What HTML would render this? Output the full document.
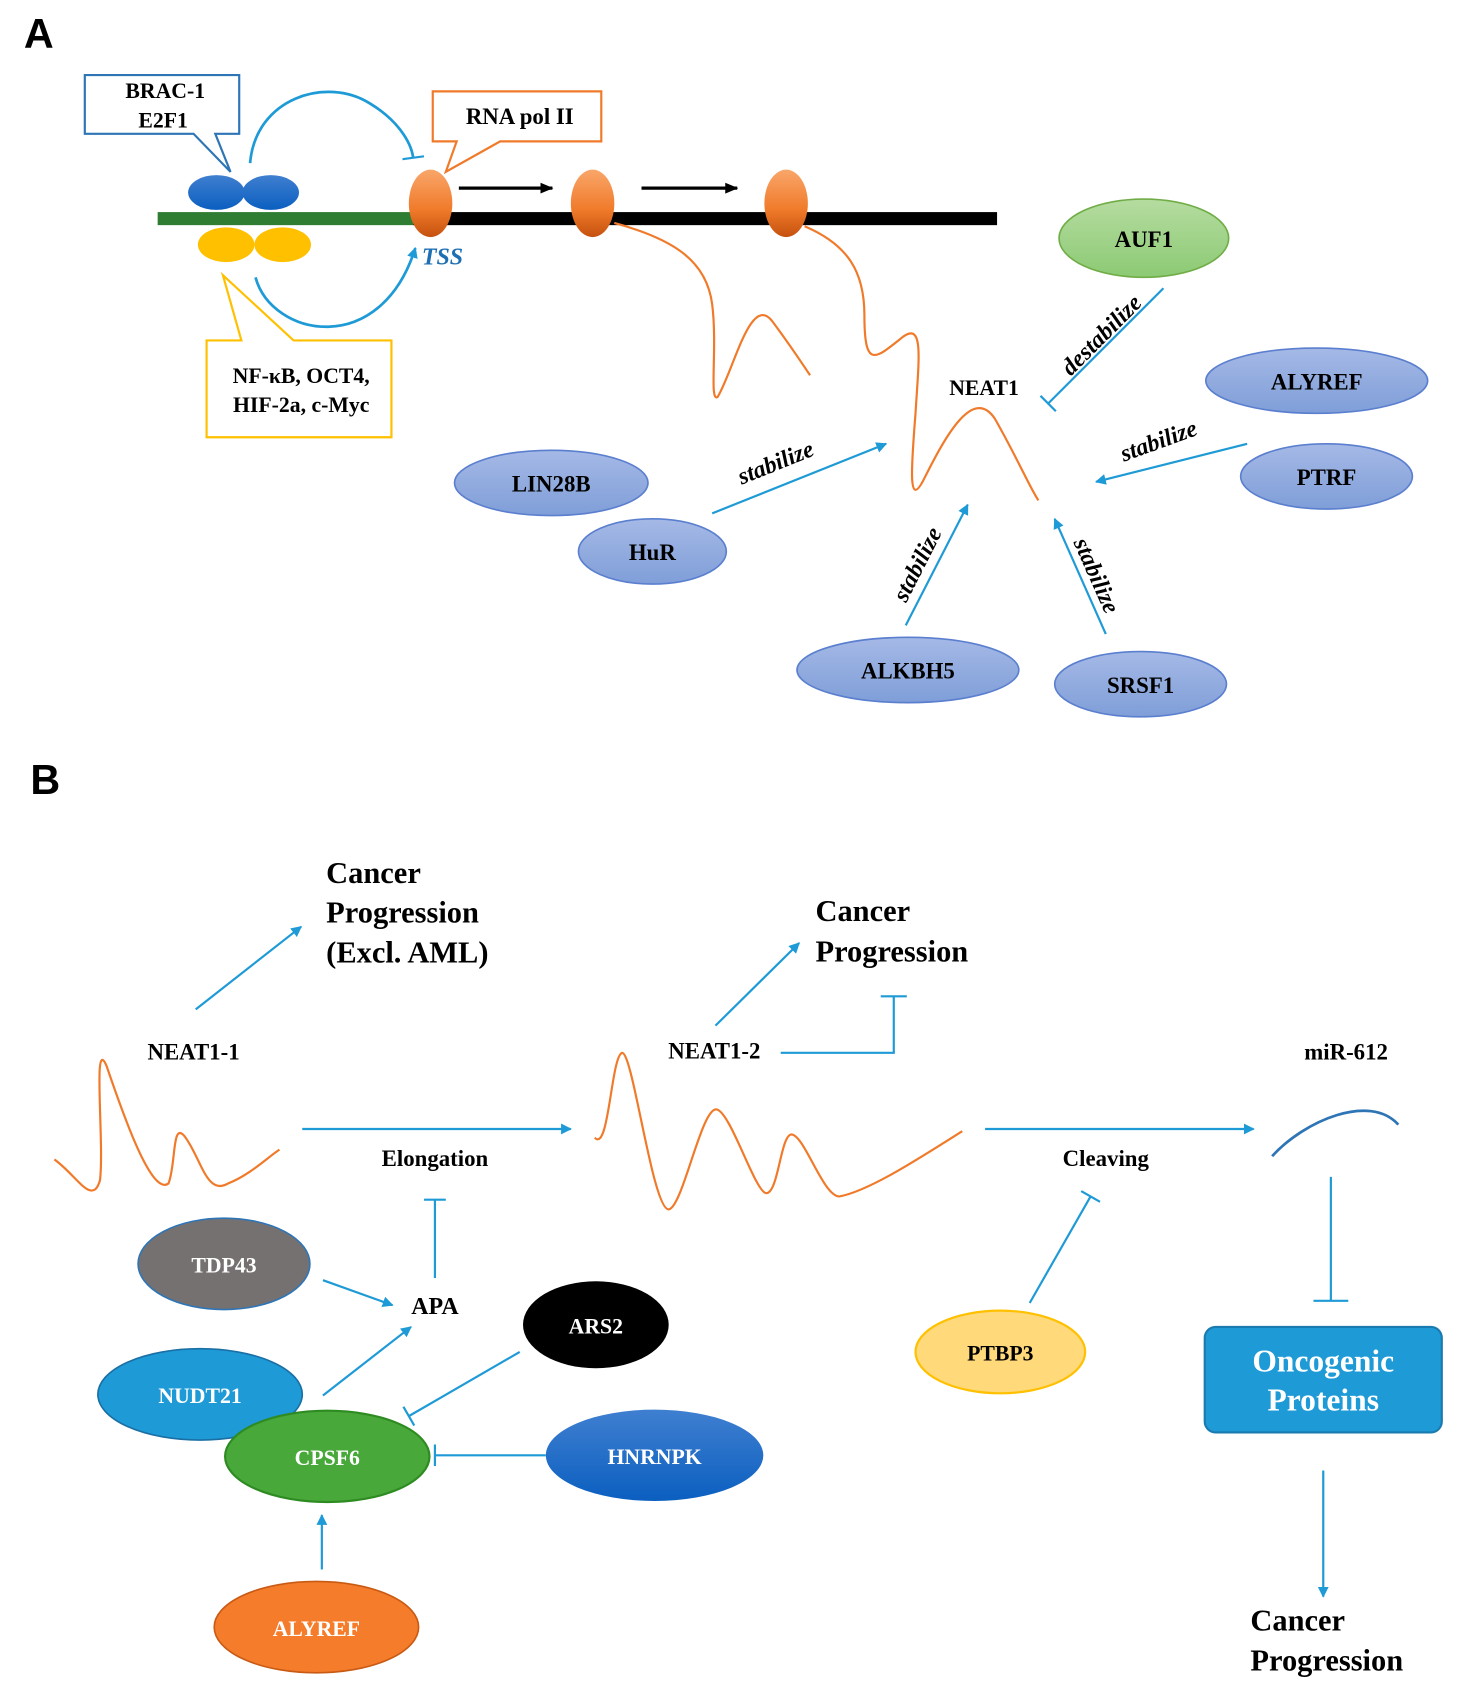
<!DOCTYPE html>
<html><head><meta charset="utf-8"><style>
html,body{margin:0;padding:0;background:#fff;}
svg{display:block;}
text{font-family:"Liberation Serif",serif;font-weight:bold;}
</style></head><body>
<svg width="1457" height="1700" viewBox="0 0 1340 1563" preserveAspectRatio="none" xmlns="http://www.w3.org/2000/svg">
<defs>
<marker id="ab" markerWidth="10" markerHeight="10" refX="9" refY="5" orient="auto" markerUnits="userSpaceOnUse"><path d="M0,0 L10,5 L0,10 z" fill="#1e9ad6"/></marker>
<marker id="ak" markerWidth="12" markerHeight="12" refX="11" refY="6" orient="auto" markerUnits="userSpaceOnUse"><path d="M0,1 L12,6 L0,11 z" fill="#000"/></marker>
<marker id="tb" markerWidth="4" markerHeight="20" refX="2" refY="10" orient="auto" markerUnits="userSpaceOnUse"><rect x="1" y="0" width="2" height="20" fill="#1e9ad6"/></marker>
<linearGradient id="og" x1="0" y1="0" x2="0" y2="1"><stop offset="0" stop-color="#f9a66a"/><stop offset="0.6" stop-color="#f07a2a"/><stop offset="1" stop-color="#c4510e"/></linearGradient>
<linearGradient id="bg" x1="0" y1="0" x2="0" y2="1"><stop offset="0" stop-color="#3f7fd0"/><stop offset="1" stop-color="#0b5fc0"/></linearGradient>
<linearGradient id="lb" x1="0" y1="0" x2="0" y2="1"><stop offset="0" stop-color="#a5b9e6"/><stop offset="1" stop-color="#7f9ed8"/></linearGradient>
<linearGradient id="gg" x1="0" y1="0" x2="0" y2="1"><stop offset="0" stop-color="#b5dca0"/><stop offset="1" stop-color="#8cca74"/></linearGradient>
</defs>

<text x="22" y="44" font-size="38" style="font-family:'Liberation Sans',sans-serif">A</text>

<path d="M78,69 H220 V123 H198 L212,158 L178,123 H78 Z" fill="#fff" stroke="#2e75b6" stroke-width="2"/>
<text x="152" y="90" font-size="20" text-anchor="middle">BRAC-1</text>
<text x="150" y="117" font-size="20" text-anchor="middle">E2F1</text>

<path d="M398,84 H553 V130 H460 L410,158 L420,130 H398 Z" fill="#fff" stroke="#f07a2a" stroke-width="2"/>
<text x="478" y="114" font-size="21" text-anchor="middle">RNA pol II</text>

<path d="M230,150 C235,90 300,70 340,95 C365,110 378,130 380,145" fill="none" stroke="#1e9ad6" stroke-width="2.5" marker-end="url(#tb)"/>
<path d="M235,255 C250,310 350,330 382,228" fill="none" stroke="#1e9ad6" stroke-width="2.5" marker-end="url(#ab)"/>
<text x="388" y="243" font-size="22" fill="#1e6fb3" font-style="italic" font-weight="normal">TSS</text>

<rect x="145" y="195" width="240" height="12" fill="#2e7d32"/>
<rect x="380" y="195" width="537" height="12" fill="#000"/>

<ellipse cx="199" cy="177" rx="26" ry="16" fill="url(#bg)"/>
<ellipse cx="249" cy="177" rx="26" ry="16" fill="url(#bg)"/>
<ellipse cx="208" cy="225" rx="26" ry="16" fill="#ffc000"/>
<ellipse cx="260" cy="225" rx="26" ry="16" fill="#ffc000"/>

<path d="M205,253 L222,313 H190 V402 H360 V313 H270 Z" fill="#fff" stroke="#ffc000" stroke-width="2"/>
<text x="277" y="352" font-size="20" text-anchor="middle">NF-κB, OCT4,</text>
<text x="277" y="379" font-size="20" text-anchor="middle">HIF-2a, c-Myc</text>

<line x1="422" y1="173" x2="508" y2="173" stroke="#000" stroke-width="3" marker-end="url(#ak)"/>
<line x1="590" y1="173" x2="678" y2="173" stroke="#000" stroke-width="3" marker-end="url(#ak)"/>

<path d="M565,205 C620,220 650,240 655,280 C660,320 652,370 660,365 C675,340 690,270 710,295 C725,315 735,330 745,345" fill="none" stroke="#f07a2a" stroke-width="2"/>
<path d="M740,208 C780,225 795,250 795,290 C795,340 805,330 830,310 C850,295 845,330 842,380 C838,430 835,470 850,440 C870,400 895,355 915,385 C935,420 948,450 955,460" fill="none" stroke="#f07a2a" stroke-width="2"/>

<ellipse cx="396" cy="187" rx="20" ry="31" fill="url(#og)"/>
<ellipse cx="545" cy="187" rx="20" ry="31" fill="url(#og)"/>
<ellipse cx="723" cy="187" rx="20" ry="31" fill="url(#og)"/>

<text x="905" y="363" font-size="20" text-anchor="middle">NEAT1</text>

<ellipse cx="1052" cy="219" rx="78" ry="36" fill="url(#gg)" stroke="#70ad47" stroke-width="1.5"/>
<text x="1052" y="227" font-size="21" text-anchor="middle">AUF1</text>
<line x1="1070" y1="265" x2="964" y2="371" stroke="#1e9ad6" stroke-width="2" marker-end="url(#tb)"/>
<text transform="translate(1018,313) rotate(-45)" font-size="22" font-style="italic" font-weight="normal" text-anchor="middle">destabilize</text>

<ellipse cx="1211" cy="350" rx="102" ry="30" fill="url(#lb)" stroke="#5b7fcf" stroke-width="1.5"/>
<text x="1211" y="358" font-size="21" text-anchor="middle">ALYREF</text>
<ellipse cx="1220" cy="438" rx="79" ry="30" fill="url(#lb)" stroke="#5b7fcf" stroke-width="1.5"/>
<text x="1220" y="446" font-size="21" text-anchor="middle">PTRF</text>
<line x1="1147" y1="408" x2="1008" y2="443" stroke="#1e9ad6" stroke-width="2" marker-end="url(#ab)"/>
<text transform="translate(1068,412) rotate(-20)" font-size="22" font-style="italic" font-weight="normal" text-anchor="middle">stabilize</text>

<ellipse cx="507" cy="444" rx="89" ry="30" fill="url(#lb)" stroke="#5b7fcf" stroke-width="1.5"/>
<text x="507" y="452" font-size="21" text-anchor="middle">LIN28B</text>
<ellipse cx="600" cy="507" rx="68" ry="30" fill="url(#lb)" stroke="#5b7fcf" stroke-width="1.5"/>
<text x="600" y="515" font-size="21" text-anchor="middle">HuR</text>
<line x1="655" y1="472" x2="815" y2="408" stroke="#1e9ad6" stroke-width="2" marker-end="url(#ab)"/>
<text transform="translate(716,432) rotate(-22)" font-size="22" font-style="italic" font-weight="normal" text-anchor="middle">stabilize</text>

<ellipse cx="835" cy="616" rx="102" ry="30" fill="url(#lb)" stroke="#5b7fcf" stroke-width="1.5"/>
<text x="835" y="624" font-size="21" text-anchor="middle">ALKBH5</text>
<ellipse cx="1049" cy="629" rx="79" ry="30" fill="url(#lb)" stroke="#5b7fcf" stroke-width="1.5"/>
<text x="1049" y="637" font-size="21" text-anchor="middle">SRSF1</text>
<line x1="833" y1="575" x2="890" y2="464" stroke="#1e9ad6" stroke-width="2" marker-end="url(#ab)"/>
<text transform="translate(850,522) rotate(-63)" font-size="22" font-style="italic" font-weight="normal" text-anchor="middle">stabilize</text>
<line x1="1017" y1="583" x2="970" y2="477" stroke="#1e9ad6" stroke-width="2" marker-end="url(#ab)"/>
<text transform="translate(1002,532) rotate(66)" font-size="22" font-style="italic" font-weight="normal" text-anchor="middle">stabilize</text>

<text x="28" y="730" font-size="38" style="font-family:'Liberation Sans',sans-serif">B</text>

<text x="300" y="812" font-size="28">Cancer</text>
<text x="300" y="848" font-size="28">Progression</text>
<text x="300" y="885" font-size="28">(Excl. AML)</text>
<line x1="180" y1="928" x2="277" y2="852" stroke="#1e9ad6" stroke-width="2" marker-end="url(#ab)"/>

<text x="178" y="974" font-size="21" text-anchor="middle">NEAT1-1</text>
<path d="M50,1066 C70,1080 85,1110 92,1085 C96,1050 85,950 98,980 C115,1030 140,1100 155,1088 C162,1070 158,1030 170,1045 C185,1065 190,1100 210,1088 C230,1080 245,1065 257,1057" fill="none" stroke="#f07a2a" stroke-width="2"/>

<line x1="278" y1="1038" x2="525" y2="1038" stroke="#1e9ad6" stroke-width="2" marker-end="url(#ab)"/>
<text x="400" y="1072" font-size="21" text-anchor="middle">Elongation</text>
<line x1="400" y1="1175" x2="400" y2="1103" stroke="#1e9ad6" stroke-width="2" marker-end="url(#tb)"/>
<text x="400" y="1208" font-size="22" text-anchor="middle">APA</text>

<ellipse cx="206" cy="1162" rx="79" ry="42" fill="#767171" stroke="#2e75b6" stroke-width="1.5"/>
<text x="206" y="1170" font-size="20" fill="#fff" text-anchor="middle" font-weight="normal">TDP43</text>
<line x1="297" y1="1177" x2="361" y2="1200" stroke="#1e9ad6" stroke-width="2" marker-end="url(#ab)"/>

<ellipse cx="184" cy="1282" rx="94" ry="42" fill="#1e9ad6" stroke="#1a6fa5" stroke-width="1.5"/>
<text x="184" y="1290" font-size="20" fill="#fff" text-anchor="middle" font-weight="normal">NUDT21</text>
<ellipse cx="301" cy="1339" rx="94" ry="42" fill="#49a83a" stroke="#2e8b22" stroke-width="2"/>
<text x="301" y="1347" font-size="20" fill="#fff" text-anchor="middle" font-weight="normal">CPSF6</text>
<line x1="297" y1="1283" x2="378" y2="1220" stroke="#1e9ad6" stroke-width="2" marker-end="url(#ab)"/>

<ellipse cx="548" cy="1218" rx="67" ry="40" fill="#000"/>
<text x="548" y="1226" font-size="20" fill="#fff" text-anchor="middle" font-weight="normal">ARS2</text>
<line x1="478" y1="1243" x2="376" y2="1302" stroke="#1e9ad6" stroke-width="2" marker-end="url(#tb)"/>

<ellipse cx="602" cy="1338" rx="100" ry="42" fill="url(#bg)"/>
<text x="602" y="1346" font-size="20" fill="#fff" text-anchor="middle" font-weight="normal">HNRNPK</text>
<line x1="502" y1="1338" x2="400" y2="1338" stroke="#1e9ad6" stroke-width="2" marker-end="url(#tb)"/>

<ellipse cx="291" cy="1496" rx="94" ry="42" fill="#f47c2a" stroke="#c95a14" stroke-width="1.5"/>
<text x="291" y="1504" font-size="20" fill="#fff" text-anchor="middle" font-weight="normal">ALYREF</text>
<line x1="296" y1="1443" x2="296" y2="1393" stroke="#1e9ad6" stroke-width="2" marker-end="url(#ab)"/>

<path d="M547,1046 C560,1060 562,972 572,968 C582,966 600,1112 615,1112 C628,1110 645,1018 659,1020 C672,1022 695,1098 705,1097 C716,1096 718,1043 728,1043 C740,1044 757,1100 772,1100 C800,1095 850,1062 885,1040" fill="none" stroke="#f07a2a" stroke-width="2"/>

<text x="657" y="973" font-size="21" text-anchor="middle">NEAT1-2</text>
<polyline points="718,968 822,968 822,916" fill="none" stroke="#1e9ad6" stroke-width="2"/>
<line x1="810" y1="916" x2="834" y2="916" stroke="#1e9ad6" stroke-width="2"/>
<line x1="658" y1="943" x2="735" y2="867" stroke="#1e9ad6" stroke-width="2" marker-end="url(#ab)"/>
<text x="750" y="847" font-size="28">Cancer</text>
<text x="750" y="884" font-size="28">Progression</text>

<line x1="906" y1="1038" x2="1153" y2="1038" stroke="#1e9ad6" stroke-width="2" marker-end="url(#ab)"/>
<text x="1017" y="1072" font-size="21" text-anchor="middle">Cleaving</text>

<text x="1238" y="974" font-size="21" text-anchor="middle">miR-612</text>
<path d="M1170,1063 C1200,1030 1260,1005 1286,1034" fill="none" stroke="#2e75b6" stroke-width="2.5"/>

<ellipse cx="920" cy="1243" rx="78" ry="38" fill="#ffd97a" stroke="#ffc000" stroke-width="2"/>
<text x="920" y="1251" font-size="20" text-anchor="middle" font-weight="normal">PTBP3</text>
<line x1="947" y1="1198" x2="1003" y2="1100" stroke="#1e9ad6" stroke-width="2" marker-end="url(#tb)"/>

<line x1="1224" y1="1082" x2="1224" y2="1196" stroke="#1e9ad6" stroke-width="2"/>
<line x1="1208" y1="1196" x2="1240" y2="1196" stroke="#1e9ad6" stroke-width="2"/>

<rect x="1108" y="1220" width="218" height="97" rx="10" fill="#1e9ad6" stroke="#1a7bb0" stroke-width="2"/>
<text x="1217" y="1261" font-size="29" fill="#fff" text-anchor="middle" font-weight="normal">Oncogenic</text>
<text x="1217" y="1297" font-size="29" fill="#fff" text-anchor="middle" font-weight="normal">Proteins</text>

<line x1="1217" y1="1352" x2="1217" y2="1468" stroke="#1e9ad6" stroke-width="2" marker-end="url(#ab)"/>
<text x="1150" y="1499" font-size="28">Cancer</text>
<text x="1150" y="1536" font-size="28">Progression</text>
</svg>
</body></html>
